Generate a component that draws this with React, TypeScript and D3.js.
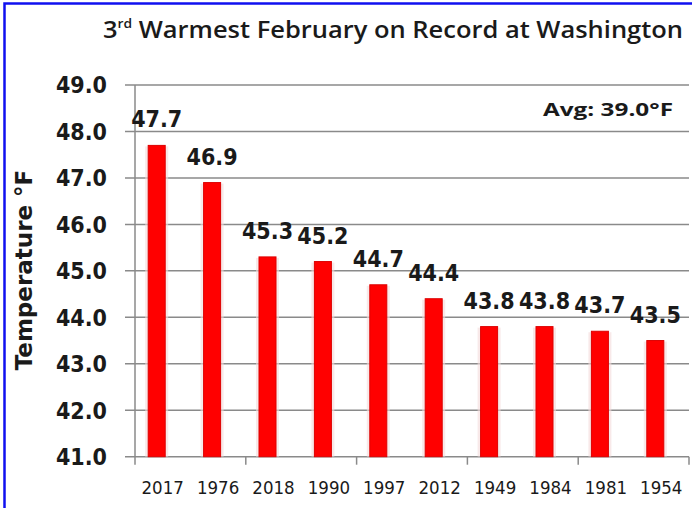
import React from "react";
import { scaleBand, scaleLinear } from "d3";

// chart values
const years = ["2017", "1976", "2018", "1990", "1997", "2012", "1949", "1984", "1981", "1954"];
const temps = [47.7, 46.9, 45.3, 45.2, 44.7, 44.4, 43.8, 43.8, 43.7, 43.5];
const yTicks = [41, 42, 43, 44, 45, 46, 47, 48, 49];
const avgText = "Avg: 39.0°F";
const yTitle = "Temperature °F";

const W = 692;
const H = 508;
const margin = { top: 85, right: 3, bottom: 51.3, left: 135 };

const App: React.FC = () => {
    const x = scaleBand<string>()
        .domain(years)
        .range([margin.left, W - margin.right]);
    const y = scaleLinear()
        .domain([41, 49])
        .range([H - margin.bottom, margin.top]);

    const barW = 17;
    const barShift = -6; // bars sit a bit left of the category centre
    const grid = "#8a8a8a";
    const numFont = "'DejaVu Sans Condensed', 'DejaVu Sans', sans-serif";

    return (
        <svg
            width={W}
            height={H}
            style={{ position: "absolute", left: 0, top: 0, background: "#fff" }}
        >
            {/* blue frame */}
            <rect x={4.5} y={3.5} width={W + 10} height={H + 10} fill="none" stroke="#1010f0" strokeWidth={2.5} />

            {/* title */}
            <text x={103} y={38} fontFamily="'Open Sans', 'Liberation Sans', sans-serif" fontWeight={600} fontSize={24}
                fill="#1a1a1a" textLength={580} lengthAdjust="spacingAndGlyphs">
                3<tspan fontSize={13} dy={-10}>rd</tspan><tspan dy={10}> Warmest February on Record at Washington</tspan>
            </text>

            {/* gridlines + y labels */}
            {yTicks.map(t => (
                <g key={t}>
                    <line x1={margin.left - 10} x2={W - 3} y1={y(t)} y2={y(t)} stroke={grid} strokeWidth={1.5} />
                    <text x={107} y={y(t)} dy="0.36em" textAnchor="end" fontFamily={numFont} fontWeight="bold"
                        fontSize={23} fill="#1a1a1a">
                        {t.toFixed(1)}
                    </text>
                </g>
            ))}

            {/* y axis line */}
            <line x1={margin.left} x2={margin.left} y1={y(49)} y2={y(41)} stroke={grid} strokeWidth={1.5} />

            {/* x ticks every two categories */}
            {years.map((yr, i) =>
                i % 2 === 0 ? (
                    <line key={"t" + yr} x1={x(yr)!} x2={x(yr)!} y1={y(41)} y2={y(41) + 8} stroke={grid} strokeWidth={1.5} />
                ) : null,
            )}
            <line x1={x.range()[1]} x2={x.range()[1]} y1={y(41)} y2={y(41) + 8} stroke={grid} strokeWidth={1.5} />

            {/* bars */}
            {years.map((yr, i) => {
                const cx = x(yr)! + x.bandwidth() / 2 + barShift;
                return (
                    <g key={yr}>
                        <rect x={cx - barW / 2 - 3} y={y(temps[i]) + 1} width={barW + 6} height={y(41) - y(temps[i]) - 1}
                            fill="#f3dada" opacity={0.6} />
                        <rect x={cx - barW / 2} y={y(temps[i])} width={barW} height={y(41) - y(temps[i])}
                            fill="#ff0000" stroke="#dd0000" strokeWidth={1} />
                        <text x={cx} y={y(temps[i]) - 18} textAnchor="middle" fontFamily={numFont} fontWeight="bold"
                            fontSize={23} fill="#1a1a1a">
                            {temps[i].toFixed(1)}
                        </text>
                    </g>
                );
            })}

            {/* x labels */}
            {years.map(yr => (
                <text key={"l" + yr} x={x(yr)! + x.bandwidth() / 2} y={494} textAnchor="middle" fontFamily={numFont}
                    fontSize={18.5} fill="#1a1a1a">
                    {yr}
                </text>
            ))}

            {/* axis title */}
            <text transform={`translate(32,270) rotate(-90)`} textAnchor="middle" fontFamily="'DejaVu Sans', sans-serif"
                fontWeight="bold" fontSize={23} fill="#1a1a1a">
                {yTitle}
            </text>

            {/* average note */}
            <text x={543} y={116} fontFamily="'Open Sans', 'Liberation Sans', sans-serif" fontWeight="bold" fontSize={18}
                fill="#1a1a1a" textLength={130} lengthAdjust="spacingAndGlyphs">
                {avgText}
            </text>
        </svg>
    );
};

export default App;
